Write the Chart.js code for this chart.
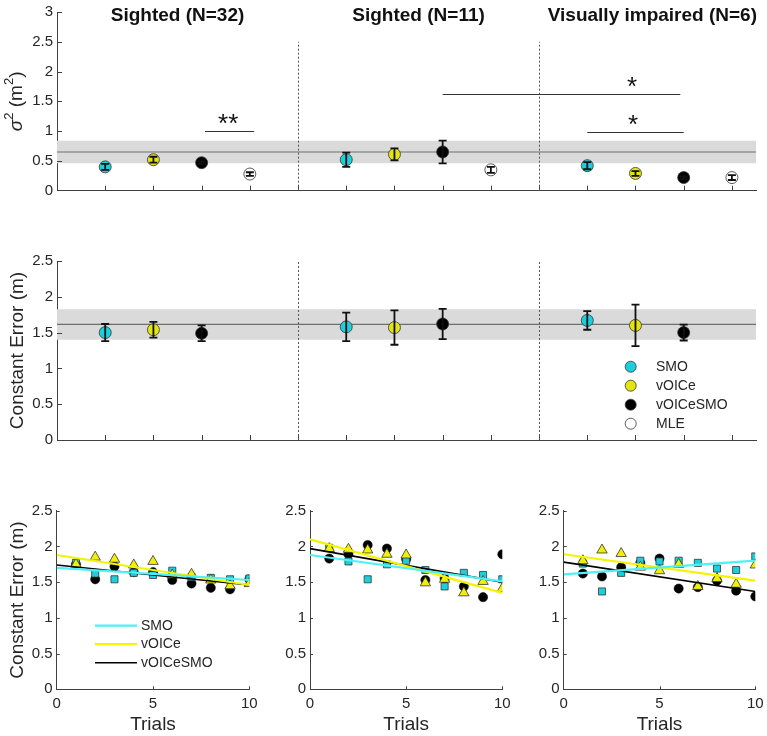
<!DOCTYPE html>
<html>
<head>
<meta charset="utf-8">
<script src="https://cdn.jsdelivr.net/npm/chart.js@4.4.0/dist/chart.umd.min.js"></script>
<style>
  body { margin: 0; background: #fff; }
  #fig { position: relative; width: 767px; height: 736px; overflow: hidden; }
  #fig canvas { position: absolute; }
</style>
</head>
<body>
<div id="fig">
  <canvas id="c-var" width="767" height="205" style="left:0;top:0;width:767px;height:205px"></canvas>
  <canvas id="c-ce" width="767" height="210" style="left:0;top:240px;width:767px;height:210px"></canvas>
  <canvas id="c-t1" width="260" height="256" style="left:0;top:480px;width:260px;height:256px"></canvas>
  <canvas id="c-t2" width="250" height="256" style="left:260px;top:480px;width:250px;height:256px"></canvas>
  <canvas id="c-t3" width="257" height="256" style="left:510px;top:480px;width:257px;height:256px"></canvas>
</div>
<script>
// ---- data ----
var groupLabels = ["Sighted (N=32)", "Sighted (N=11)", "Visually impaired (N=6)"];
var groupTitleX = [2.5, 7.5, 12.35];
var groupSlot = [1, 6, 11];          // x of first condition in each group
var dividerX = [5, 10];

// variance sigma^2 (m^2), one value per group
var varSMO      = [0.40, 0.52, 0.42];
var varSMOErr   = [0.05, 0.12, 0.06];
var varVOICe    = [0.52, 0.61, 0.29];
var varVOICeErr = [0.05, 0.10, 0.04];
var varBoth     = [0.47, 0.65, 0.22];
var varBothErr  = [0.02, 0.19, 0.02];
var varMLE      = [0.28, 0.35, 0.22];
var varMLEErr   = [0.03, 0.05, 0.04];
var varBand     = [0.46, 0.65, 0.84];   // low, mean, high

// significance bars on the variance panel
var sigFrom  = [3.07, 8.0, 11.0];
var sigTo    = [4.09, 12.93, 13.0];
var sigY     = [1.0, 1.63, 0.99];
var sigStarX = [3.55, 11.93, 11.95];
var sigMark  = ["**", "*", "*"];

// constant error (m), one value per group
var ceSMO      = [1.50, 1.58, 1.67];
var ceSMOErr   = [0.12, 0.20, 0.13];
var ceVOICe    = [1.54, 1.57, 1.60];
var ceVOICeErr = [0.11, 0.24, 0.29];
var ceBoth     = [1.49, 1.62, 1.50];
var ceBothErr  = [0.11, 0.21, 0.11];
var ceBand     = [1.40, 1.615, 1.825];

// constant error per trial
var trials = [1, 2, 3, 4, 5, 6, 7, 8, 9, 10];
var fitX = [0, 10];

var s32SMO   = [1.77, 1.62, 1.54, 1.63, 1.60, 1.66, 1.57, 1.56, 1.54, 1.55];
var s32VOICe = [1.75, 1.85, 1.82, 1.74, 1.79, 1.60, 1.61, 1.53, 1.45, 1.48];
var s32Both  = [1.75, 1.54, 1.72, 1.64, 1.64, 1.53, 1.48, 1.42, 1.40, 1.54];
var s32FitSMO = [1.70, 1.53], s32FitVOICe = [1.88, 1.46], s32FitBoth = [1.74, 1.46];

var s11SMO   = [1.98, 1.79, 1.54, 1.75, 1.80, 1.67, 1.44, 1.63, 1.60, 1.54];
var s11VOICe = [1.97, 1.96, 1.95, 1.89, 1.88, 1.49, 1.54, 1.35, 1.51, 1.41];
var s11Both  = [1.83, 1.89, 2.02, 1.97, 1.82, 1.53, 1.55, 1.44, 1.29, 1.89];
var s11FitSMO = [1.88, 1.51], s11FitVOICe = [2.10, 1.35], s11FitBoth = [1.97, 1.50];

var viSMO   = [1.76, 1.37, 1.63, 1.80, 1.79, 1.80, 1.77, 1.69, 1.67, 1.86];
var viVOICe = [1.80, 1.95, 1.90, 1.71, 1.66, 1.75, 1.44, 1.55, 1.47, 1.74];
var viBoth  = [1.62, 1.58, 1.71, 1.77, 1.83, 1.41, 1.43, 1.52, 1.38, 1.30];
var viFitSMO = [1.61, 1.80], viFitVOICe = [1.89, 1.52], viFitBoth = [1.78, 1.37];

// ---- styles ----
var FONT = '"Liberation Sans", Arial, sans-serif';
var INK = "#262626";
var AXIS = "#404040";
var CYAN = "#1bd0dc", YELLOW = "#e4e414", EDGE = "#333333";
var FIT_CYAN = "#4ff0f7", FIT_YELLOW = "#f4f400";
var BAND = "#dadada", BAND_LINE = "#6e6e6e";

Chart.defaults.font.family = FONT;
Chart.defaults.color = INK;

function fixW(w) { return function (s) { s.width = w; s.paddingTop = 0; s.paddingBottom = 0; }; }
function fixH(h) { return function (s) { s.height = h; s.paddingLeft = 0; s.paddingRight = 0; }; }
function plainTick(v) { return String(+Number(v).toFixed(2)); }

function groupPts(vals, cond) {
  return vals.map(function (v, g) { return { x: groupSlot[g] + cond, y: v }; });
}
function trialPts(vals) {
  return vals.map(function (v, i) { return { x: trials[i], y: v }; });
}
function flat(y, x0, x1) { return [{ x: x0, y: y }, { x: x1, y: y }]; }

// ---- plugins ----
// MATLAB-style ticks pointing into the plot
var inTicks = {
  id: "inTicks",
  afterDatasetsDraw: function (chart, args, o) {
    var ctx = chart.ctx, a = chart.chartArea, len = o.len || 5;
    var sx = chart.scales.x, sy = chart.scales.y;
    ctx.save();
    ctx.strokeStyle = AXIS; ctx.lineWidth = 1;
    ctx.beginPath();
    sx.ticks.forEach(function (t) {
      if (t.value <= sx.min) return;
      var px = Math.round(sx.getPixelForValue(t.value)) + 0.5;
      ctx.moveTo(px, a.bottom); ctx.lineTo(px, a.bottom - len);
    });
    sy.ticks.forEach(function (t) {
      if (t.value <= sy.min) return;
      var py = Math.round(sy.getPixelForValue(t.value)) + 0.5;
      ctx.moveTo(a.left, py); ctx.lineTo(a.left + len, py);
    });
    ctx.stroke();
    ctx.restore();
  }
};

var errBars = {
  id: "errBars",
  afterDatasetsDraw: function (chart) {
    var ctx = chart.ctx, sy = chart.scales.y;
    ctx.save();
    ctx.strokeStyle = "#111"; ctx.lineWidth = 1.8;
    chart.data.datasets.forEach(function (ds, i) {
      if (!ds.errors) return;
      var meta = chart.getDatasetMeta(i);
      ds.data.forEach(function (p, j) {
        var px = meta.data[j].x;
        var top = sy.getPixelForValue(p.y + ds.errors[j]);
        var bot = sy.getPixelForValue(p.y - ds.errors[j]);
        ctx.beginPath();
        ctx.moveTo(px, top); ctx.lineTo(px, bot);
        ctx.moveTo(px - 4, top); ctx.lineTo(px + 4, top);
        ctx.moveTo(px - 4, bot); ctx.lineTo(px + 4, bot);
        ctx.stroke();
      });
    });
    ctx.restore();
  }
};

// rotated y label with italic sigma and superscripts
function drawSigmaLabel(ctx, cx, cy) {
  var parts = [
    { t: "\u03c3", f: "italic 19px " + FONT, dy: 0 },
    { t: "2", f: "13px " + FONT, dy: -8 },
    { t: " (m", f: "19px " + FONT, dy: 0 },
    { t: "2", f: "13px " + FONT, dy: -8 },
    { t: ")", f: "19px " + FONT, dy: 0 }
  ];
  var total = 0;
  parts.forEach(function (p) { ctx.font = p.f; p.w = ctx.measureText(p.t).width; total += p.w; });
  ctx.save();
  ctx.translate(cx, cy);
  ctx.rotate(-Math.PI / 2);
  ctx.fillStyle = INK; ctx.textAlign = "left"; ctx.textBaseline = "middle";
  var x = -total / 2;
  parts.forEach(function (p) { ctx.font = p.f; ctx.fillText(p.t, x, p.dy); x += p.w; });
  ctx.restore();
}

var decor = {
  id: "decor",
  afterDatasetsDraw: function (chart, args, o) {
    var ctx = chart.ctx, sx = chart.scales.x, sy = chart.scales.y, a = chart.chartArea;
    ctx.save();
    // dashed group dividers
    ctx.strokeStyle = "#555"; ctx.lineWidth = 1; ctx.setLineDash([2, 2]);
    dividerX.forEach(function (d) {
      var px = Math.round(sx.getPixelForValue(d)) + 0.5;
      ctx.beginPath();
      ctx.moveTo(px, sy.getPixelForValue(0));
      ctx.lineTo(px, sy.getPixelForValue(2.5));
      ctx.stroke();
    });
    ctx.setLineDash([]);
    // significance bars
    if (o.sig) {
      ctx.strokeStyle = "#333"; ctx.fillStyle = "#111"; ctx.lineWidth = 1;
      ctx.font = "26px " + FONT; ctx.textAlign = "center"; ctx.textBaseline = "alphabetic";
      sigFrom.forEach(function (f, i) {
        var py = Math.round(sy.getPixelForValue(sigY[i])) + 0.5;
        ctx.beginPath();
        ctx.moveTo(sx.getPixelForValue(f), py);
        ctx.lineTo(sx.getPixelForValue(sigTo[i]), py);
        ctx.stroke();
        ctx.fillText(sigMark[i], sx.getPixelForValue(sigStarX[i]), py);
      });
    }
    // group titles
    if (o.titles) {
      ctx.fillStyle = "#111";
      ctx.font = "bold 19px " + FONT; ctx.textAlign = "center"; ctx.textBaseline = "alphabetic";
      groupLabels.forEach(function (g, i) {
        ctx.fillText(g, sx.getPixelForValue(groupTitleX[i]), 21);
      });
    }
    if (o.sigmaTitle) drawSigmaLabel(ctx, 17, (a.top + a.bottom) / 2);
    // legend with markers
    if (o.markerLegend) {
      var L = o.markerLegend;
      ctx.font = "14px " + FONT; ctx.textAlign = "left"; ctx.textBaseline = "middle";
      L.items.forEach(function (it, i) {
        var y = L.y + i * L.step;
        ctx.beginPath();
        ctx.arc(L.x, y, 5.5, 0, Math.PI * 2);
        ctx.fillStyle = it.fill; ctx.fill();
        ctx.strokeStyle = EDGE; ctx.lineWidth = 0.8; ctx.stroke();
        ctx.fillStyle = INK;
        ctx.fillText(it.label, L.tx, y);
      });
    }
    ctx.restore();
  }
};

var lineLegend = {
  id: "lineLegend",
  afterDatasetsDraw: function (chart) {
    var ctx = chart.ctx;
    ctx.save();
    ctx.font = "14px " + FONT; ctx.textAlign = "left"; ctx.textBaseline = "middle";
    chart.data.datasets.slice(0, 3).forEach(function (ds, i) {
      var y = 145.7 + i * 18.5;
      ctx.beginPath();
      ctx.moveTo(95, y); ctx.lineTo(137, y);
      ctx.strokeStyle = ds.borderColor; ctx.lineWidth = ds.borderWidth; ctx.stroke();
      ctx.fillStyle = INK;
      ctx.fillText(ds.label, 141, y);
    });
    ctx.restore();
  }
};

function bandSets(band) {
  return [
    { type: "line", data: flat(band[2], 0, 14.5), borderWidth: 0, pointRadius: 0, fill: false, order: 20 },
    { type: "line", data: flat(band[0], 0, 14.5), borderWidth: 0, pointRadius: 0, fill: "-1", backgroundColor: BAND, order: 19 },
    { type: "line", data: flat(band[1], 0, 14.5), borderColor: BAND_LINE, borderWidth: 1.2, pointRadius: 0, fill: false, order: 18 }
  ];
}
function dotSet(label, pts, errs, fill, order) {
  return { type: "scatter", label: label, data: pts, errors: errs, pointStyle: "circle", pointRadius: 6,
           backgroundColor: fill, borderColor: EDGE, borderWidth: 0.8, order: order };
}

function axisY(max, width, title) {
  return {
    type: "linear", min: 0, max: max,
    afterFit: fixW(width),
    ticks: { stepSize: 0.5, padding: 4, color: INK, font: { size: 15 }, callback: plainTick },
    grid: { display: true, drawOnChartArea: false, drawTicks: false },
    border: { display: true, color: AXIS, width: 1 },
    title: title ? { display: true, text: title, color: INK, font: { size: 19 }, padding: { top: 6, bottom: 0 } } : { display: false }
  };
}
function axisGroupX(height) {
  return {
    type: "linear", min: 0, max: 14.5,
    afterFit: fixH(height),
    ticks: { stepSize: 1, display: false, includeBounds: false },
    grid: { display: true, drawOnChartArea: false, drawTicks: false },
    border: { display: true, color: AXIS, width: 1 }
  };
}

function opts(padding, scales, pluginOpts) {
  var p = { legend: { display: false }, tooltip: { enabled: false } };
  for (var k in pluginOpts) p[k] = pluginOpts[k];
  return {
    responsive: false,
    animation: false,
    events: [],
    layout: { padding: padding },
    scales: scales,
    plugins: p
  };
}

// ---- variance panel ----
new Chart(document.getElementById("c-var"), {
  type: "line",
  data: {
    datasets: bandSets(varBand).concat([
      dotSet("SMO", groupPts(varSMO, 0), varSMOErr, CYAN, 4),
      dotSet("vOICe", groupPts(varVOICe, 1), varVOICeErr, YELLOW, 3),
      dotSet("vOICeSMO", groupPts(varBoth, 2), varBothErr, "#000", 2),
      dotSet("MLE", groupPts(varMLE, 3), varMLEErr, "#fff", 1)
    ])
  },
  options: opts({ top: 12, right: 11, left: 0, bottom: 0 },
    { x: axisGroupX(14.3), y: axisY(3, 57, null) },
    { decor: { sig: true, titles: true, sigmaTitle: true } }),
  plugins: [errBars, inTicks, decor]
});

// ---- constant error panel ----
new Chart(document.getElementById("c-ce"), {
  type: "line",
  data: {
    datasets: bandSets(ceBand).concat([
      dotSet("SMO", groupPts(ceSMO, 0), ceSMOErr, CYAN, 3),
      dotSet("vOICe", groupPts(ceVOICe, 1), ceVOICeErr, YELLOW, 2),
      dotSet("vOICeSMO", groupPts(ceBoth, 2), ceBothErr, "#000", 1)
    ])
  },
  options: opts({ top: 21, right: 11, left: 0, bottom: 0 },
    { x: axisGroupX(10), y: axisY(2.5, 57, "Constant Error (m)") },
    { decor: {
        markerLegend: {
          x: 630.7, y: 126.7, step: 19, tx: 656,
          items: [
            { label: "SMO", fill: CYAN },
            { label: "vOICe", fill: YELLOW },
            { label: "vOICeSMO", fill: "#000" },
            { label: "MLE", fill: "#fff" }
          ]
        }
    } }),
  plugins: [errBars, inTicks, decor]
});

// ---- per-trial panels ----
function fitLine(label, f, color, width) {
  return { type: "line", label: label, data: [{ x: fitX[0], y: f[0] }, { x: fitX[1], y: f[1] }],
           borderColor: color, borderWidth: width, pointRadius: 0, fill: false, order: 0 };
}
function trialChart(id, yWidth, padRight, smo, voice, both, fSMO, fVOICe, fBoth, first) {
  var ds = [
    fitLine("SMO", fSMO, FIT_CYAN, 2.2),
    fitLine("vOICe", fVOICe, FIT_YELLOW, 2.2),
    fitLine("vOICeSMO", fBoth, "#000", 1.6),
    { type: "scatter", data: trialPts(voice), pointStyle: "triangle", pointRadius: 6, backgroundColor: "#f0f000", borderColor: EDGE, borderWidth: 0.8, order: 1 },
    { type: "scatter", data: trialPts(smo), pointStyle: "rect", pointRadius: 5, backgroundColor: CYAN, borderColor: EDGE, borderWidth: 0.8, order: 2 },
    { type: "scatter", data: trialPts(both), pointStyle: "circle", pointRadius: 4.6, backgroundColor: "#000", borderColor: "#000", borderWidth: 0.5, order: 3 }
  ];
  var x = {
    type: "linear", min: 0, max: 10,
    afterFit: fixH(46.7),
    ticks: { stepSize: 5, padding: 6, color: INK, font: { size: 15 }, maxRotation: 0 },
    grid: { display: true, drawOnChartArea: false, drawTicks: false },
    border: { display: true, color: AXIS, width: 1 },
    title: { display: true, text: "Trials", color: INK, font: { size: 19 }, padding: { top: 0, bottom: 0 } }
  };
  return new Chart(document.getElementById(id), {
    type: "line",
    data: { datasets: ds },
    options: opts({ top: 30.7, right: padRight, left: 0, bottom: 0 },
      { x: x, y: axisY(2.5, yWidth, first ? "Constant Error (m)" : null) },
      { inTicks: { len: 3 } }),
    plugins: first ? [inTicks, lineLegend] : [inTicks]
  });
}

trialChart("c-t1", 56.7, 10.7, s32SMO, s32VOICe, s32Both, s32FitSMO, s32FitVOICe, s32FitBoth, true);
trialChart("c-t2", 50, 7.7, s11SMO, s11VOICe, s11Both, s11FitSMO, s11FitVOICe, s11FitBoth, false);
trialChart("c-t3", 53.7, 11.7, viSMO, viVOICe, viBoth, viFitSMO, viFitVOICe, viFitBoth, false);
</script>
</body>
</html>
